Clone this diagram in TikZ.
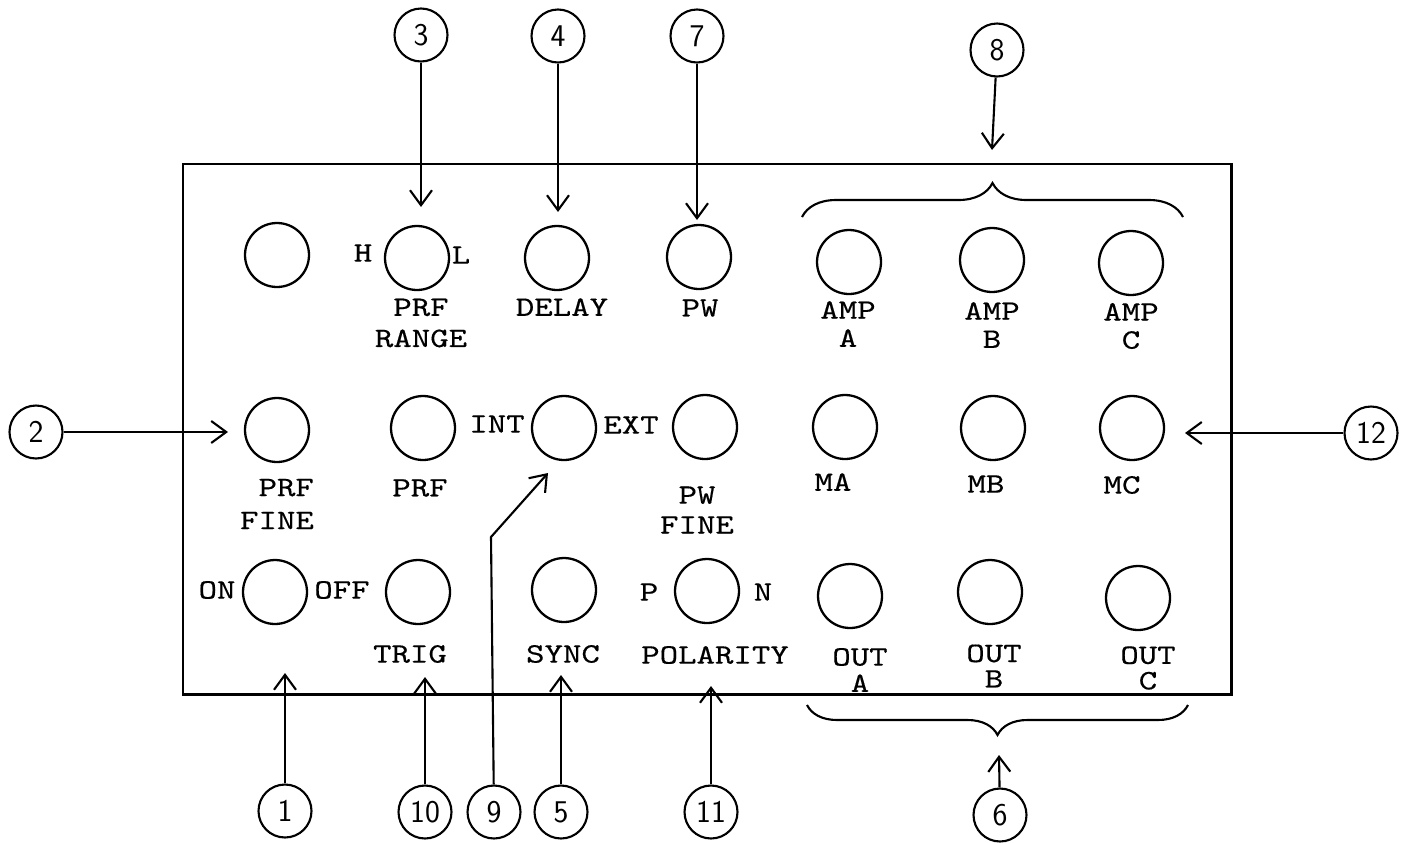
\documentclass[tikz,border=0pt]{standalone}
\usepackage{fontspec}
\setmonofont{lmmono10-regular.otf}[FakeStretch=1.25, FakeBold=0.4]
\usepackage{tikz}
\usetikzlibrary{positioning, arrows.meta, decorations.pathreplacing, calc}
\tikzset{
  knob/.style={circle, draw, line width=1.3pt, minimum size=1.28cm, inner sep=0pt},
  num/.style={circle, draw, line width=1.2pt, minimum size=1.06cm, inner sep=0pt,
              font=\sffamily\fontsize{18}{18}\selectfont},
  lbl/.style={inner sep=0pt, align=center, font=\ttfamily\fontsize{16}{16}\selectfont},
  arr/.style={-{Straight Barb[length=3mm, width=4.4mm]}, line width=1.2pt},
  brc/.style={decorate, decoration={brace, amplitude=#1}, line width=1.2pt},
}

\begin{document}
\begin{tikzpicture}[x=0.02cm, y=-0.02cm]
  \useasboundingbox (0,0) rectangle (1415,842);
  % front panel
  \draw[line width=1.7pt] (183,164) rectangle (1231,694);

  % top row
  \node[knob] (blank)    at (277,255) {};
  \node[knob] (prfrange) at (417,258) {};
  \node[knob] (delay)    at (557,258) {};
  \node[knob] (pw)       at (699,257) {};
  \node[knob] (ampa)     at (849,262) {};
  \node[knob] (ampb)     at (992,260) {};
  \node[knob] (ampc)     at (1131,263) {};
  \node[lbl] at (363,253) {H};
  \node[lbl] at (461,255) {L};
  \node[lbl] at (421,323) {PRF\\[1.7pt]RANGE};
  \node[lbl] at (562,307) {DELAY};
  \node[lbl] at (700,308) {PW};
  \node[lbl] at (848,324) {AMP\\A};
  \node[lbl] at (992,325) {AMP\\B};
  \node[lbl] at (1131,326) {AMP\\C};

  % middle row
  \node[knob] (prffine) at (277,430) {};
  \node[knob] (prf)     at (423,428) {};
  \node[knob] (intext)  at (564,428) {};
  \node[knob] (pwfine)  at (705,427) {};
  \node[knob] (ma)      at (845,427) {};
  \node[knob] (mb)      at (993,428) {};
  \node[knob] (mc)      at (1132,428) {};
  \node[lbl, align=right] at (277,504) {PRF\\[2.8pt]FINE};
  \node[lbl] at (420,488) {PRF};
  \node[lbl] at (497,424) {INT};
  \node[lbl] at (631,425) {EXT};
  \node[lbl] at (697,510) {PW\\[1pt]FINE};
  \node[lbl] at (833,482) {MA};
  \node[lbl] at (986,484) {MB};
  \node[lbl] at (1122,485) {MC};

  % bottom row
  \node[knob] (onoff)    at (275,592) {};
  \node[knob] (trig)     at (418,592) {};
  \node[knob] (sync)     at (564,590) {};
  \node[knob] (polarity) at (707,591) {};
  \node[knob] (outa)     at (850,596) {};
  \node[knob] (outb)     at (990,592) {};
  \node[knob] (outc)     at (1138,598) {};
  \node[lbl] at (217,590) {ON};
  \node[lbl] at (342,590) {OFF};
  \node[lbl] at (410,654) {TRIG};
  \node[lbl] at (563,654) {SYNC};
  \node[lbl] at (649,592) {P};
  \node[lbl] at (763,592) {N};
  \node[lbl] at (715,655) {POLARITY};
  \node[lbl] at (860,670) {OUT\\[-1pt]A};
  \node[lbl] at (994,666) {OUT\\[-1.5pt]B};
  \node[lbl] at (1148,668) {OUT\\[-1.5pt]C};

  % braces
  \draw[brc=0.68cm] (802,217) -- (1183,217);
  \draw[brc=0.6cm] (1188,705) -- (807,705);

  % callouts
  \node[num] (c3)  at (421,35) {3};
  \node[num] (c4)  at (558,36) {4};
  \node[num] (c7)  at (697,36) {7};
  \node[num] (c8)  at (997,50) {8};
  \node[num] (c2)  at (36,432) {2};
  \node[num] (c12) at (1371,433) {12};
  \node[num] (c1)  at (285,811) {1};
  \node[num] (c10) at (425,812) {10};
  \node[num] (c9)  at (494,812) {9};
  \node[num] (c5)  at (561,812) {5};
  \node[num] (c11) at (711,812) {11};
  \node[num] (c6)  at (1000,815) {6};

  \coordinate (t3)  at (421,207);
  \coordinate (t4)  at (558,212);
  \coordinate (t7)  at (697,220);
  \coordinate (t8)  at (992,150);
  \coordinate (t2)  at (228,432);
  \coordinate (t12) at (1185,433);
  \coordinate (t1)  at (285,673);
  \coordinate (t10) at (425,677);
  \coordinate (k9)  at (491,537);
  \coordinate (t9)  at (548,473);
  \coordinate (t5)  at (561,675);
  \coordinate (t11) at (711,686);
  \coordinate (t6)  at (999,755);

  \draw[arr] (c3) -- (t3);
  \draw[arr] (c4) -- (t4);
  \draw[arr] (c7) -- (t7);
  \draw[arr] (c8) -- (t8);
  \draw[arr] (c2) -- (t2);
  \draw[arr] (c12) -- (t12);
  \draw[arr] (c1) -- (t1);
  \draw[arr] (c10) -- (t10);
  \draw[arr] (c9) -- (k9) -- (t9);
  \draw[arr] (c5) -- (t5);
  \draw[arr] (c11) -- (t11);
  \draw[arr] (c6) -- (t6);
\end{tikzpicture}
\end{document}
